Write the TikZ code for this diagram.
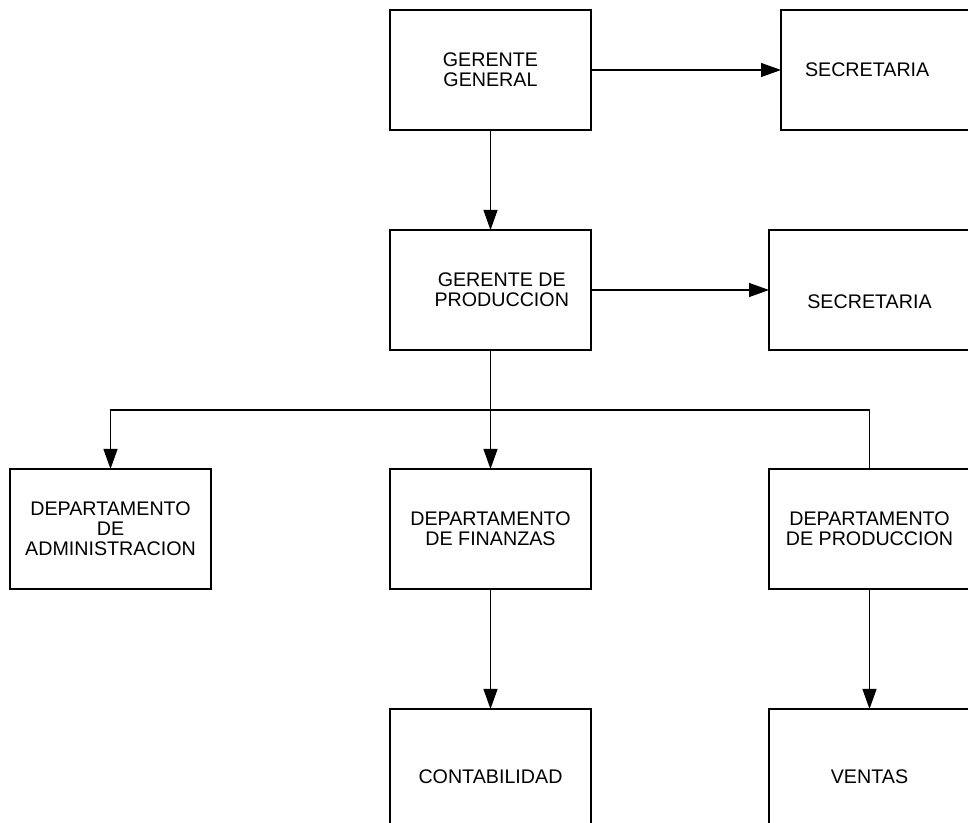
\documentclass[tikz,border=0pt]{standalone}
\usepackage{fontspec}
\setmainfont{Liberation Sans}
\usetikzlibrary{arrows.meta,positioning,calc}

\begin{document}
\begin{tikzpicture}[
    caja/.style={rectangle, draw=black, line width=1.2pt, outer sep=0pt, minimum width=4.02cm, minimum height=2.4cm, align=center, font=\fontsize{11.2}{11.3}\selectfont},
    flecha/.style={-{Triangle[length=0.4cm,width=0.28cm]}, line width=0.6pt},
    linea/.style={line width=0.6pt}
  ]
    \useasboundingbox (0,0) rectangle (19.36,-16.46);
    \clip (0,0) rectangle (19.36,-16.46);
    \node[caja] (gg) at (9.81,-1.4) {GERENTE\\GENERAL};
    \node[caja, right = 3.8cm of gg, align=left, text width=3.06cm] (sec1) {SECRETARIA};
    \node[caja, below = 2cm of gg] (gp) {\hspace{0.45cm}GERENTE DE\\\hspace{0.45cm}PRODUCCION};
    \node[caja, right = 3.56cm of gp] (sec2) {\raisebox{-0.24cm}[\height][\depth]{SECRETARIA}};
    \node[caja, below = 2.38cm of gp] (df) {DEPARTAMENTO\\DE FINANZAS};
    \node[caja, left = 3.58cm of df] (da) {DEPARTAMENTO\\DE\\ADMINISTRACION};
    \node[caja, right = 3.56cm of df] (dp) {DEPARTAMENTO\\DE PRODUCCION};
    \node[caja, below = 2.4cm of df] (cont) {\raisebox{-0.16cm}[\height][\depth]{CONTABILIDAD}};
    \node[caja, below = 2.4cm of dp] (ventas) {\raisebox{-0.16cm}[\height][\depth]{VENTAS}};
    \coordinate (bus) at ($(gp.south)+(0,-1.2)$);
    \draw[flecha]
      (gg) edge (sec1)
      (gg) edge (gp)
      (gp) edge (sec2)
      (df) edge (cont)
      (dp) edge (ventas);
    \draw[linea] (gp.south) -- (bus);
    \draw[flecha] (bus) -| (da.north);
    \draw[flecha] (bus) -- (df.north);
    \draw[linea] (bus) -| (dp.north);
  \end{tikzpicture}
\end{document}
